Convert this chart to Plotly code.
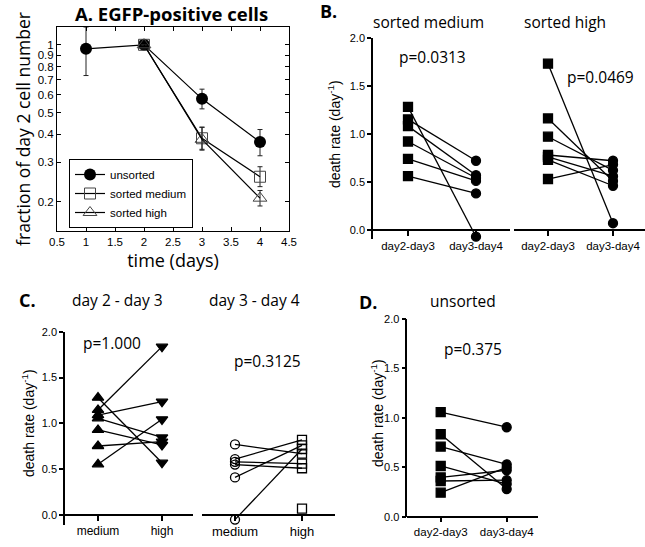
import numpy as np
import plotly.graph_objects as go

W, H = 645, 547

# ---- panel A: fraction of day 2 cell number (log scale) ----
days = [1, 2, 3, 4]
unsorted_frac = [0.96, 1.0, 0.575, 0.37]
unsorted_up = [0.24, 0.0, 0.06, 0.05]
unsorted_dn = [0.23, 0.0, 0.056, 0.049]

sorted_days = [2, 3, 4]
medium_frac = [1.0, 0.384, 0.259]
medium_up = [0.0, 0.046, 0.028]
medium_dn = [0.0, 0.041, 0.025]
high_frac = [1.0, 0.38, 0.208]
high_up = [0.0, 0.05, 0.017]
high_dn = [0.0, 0.04, 0.016]

a_xticks = [0.5, 1, 1.5, 2, 2.5, 3, 3.5, 4, 4.5]
a_xlabels = ["0.5", "1", "1.5", "2", "2.5", "3", "3.5", "4", "4.5"]
a_yticks = [0.2, 0.3, 0.4, 0.5, 0.6, 0.7, 0.8, 0.9, 1.0]
a_ylabels = ["0.2", "0.3", "0.4", "0.5", "0.6", "0.7", "0.8", "0.9", "1"]

# ---- panel B: death rates, paired ----
periods = ["day2-day3", "day3-day4"]
b_med_d23 = [1.28, 1.15, 1.08, 0.92, 0.74, 0.56]
b_med_d34 = [-0.07, 0.72, 0.57, 0.54, 0.51, 0.38]
b_high_d23 = [1.73, 1.16, 0.97, 0.78, 0.76, 0.73, 0.53]
b_high_d34 = [0.07, 0.51, 0.62, 0.72, 0.56, 0.46, 0.68]

# ---- panel C: medium vs high ----
groups = ["medium", "high"]
c_d23_med = [0.553, 0.753, 0.928, 1.28, 1.146, 1.09, 1.055]
c_d23_high = [1.044, 0.80, 0.764, 0.571, 1.837, 1.236, 0.847]
c_d34_med = [0.77, 0.61, 0.58, 0.55, 0.41, -0.05]
c_d34_high = [0.67, 0.82, 0.56, 0.51, 0.76, 0.72]
c_d34_high_extra = [0.07]

# ---- panel D: unsorted ----
d_d23 = [1.057, 0.834, 0.709, 0.513, 0.398, 0.361, 0.243]
d_d34 = [0.905, 0.28, 0.53, 0.33, 0.47, 0.37, 0.50]

rate_ticks = [0.0, 0.5, 1.0, 1.5, 2.0]


def px(x):
    return x / W


def py(y):
    return 1 - y / H


SANS = "Liberation Sans, Arial, sans-serif"
HUM = "Open Sans, Noto Sans, sans-serif"

fig = go.Figure()

# panel A traces
fig.add_trace(go.Scatter(
    x=days, y=unsorted_frac, name="unsorted", mode="lines+markers",
    line=dict(color="black", width=1.2),
    marker=dict(symbol="circle", size=12, color="black"),
    error_y=dict(type="data", array=unsorted_up, arrayminus=unsorted_dn,
                 color="#222", thickness=1, width=2.5),
    xaxis="x", yaxis="y", cliponaxis=False))
fig.add_trace(go.Scatter(
    x=sorted_days, y=medium_frac, name="sorted medium", mode="lines+markers",
    line=dict(color="black", width=1.2),
    marker=dict(symbol="square-open", size=11, color="#444", line=dict(width=1)),
    error_y=dict(type="data", array=medium_up, arrayminus=medium_dn,
                 color="#222", thickness=1, width=2.5),
    xaxis="x", yaxis="y", cliponaxis=False))
fig.add_trace(go.Scatter(
    x=sorted_days, y=high_frac, name="sorted high", mode="lines+markers",
    line=dict(color="black", width=1.2),
    marker=dict(symbol="triangle-up-open", size=12, color="#444", line=dict(width=1)),
    error_y=dict(type="data", array=high_up, arrayminus=high_dn,
                 color="#222", thickness=1, width=2.5),
    xaxis="x", yaxis="y", cliponaxis=False))


def add_pairs(left, right, ax, sym, size=9, lw=1.3):
    for a, b in zip(left, right):
        fig.add_trace(go.Scatter(
            x=[0, 1], y=[a, b], mode="lines+markers", showlegend=False,
            line=dict(color="black", width=lw),
            marker=dict(symbol=sym, size=size, color="black",
                        line=dict(color="black", width=1.3)),
            xaxis="x" + ax, yaxis="y" + ax, cliponaxis=False))


add_pairs(b_med_d23, b_med_d34, "2", ["square", "circle"])
add_pairs(b_high_d23, b_high_d34, "3", ["square", "circle"])
add_pairs(c_d23_med, c_d23_high, "4", ["triangle-up", "triangle-down"], size=10)
add_pairs(c_d34_med, c_d34_high, "5", ["circle-open", "square-open"])
fig.add_trace(go.Scatter(
    x=[1] * len(c_d34_high_extra), y=c_d34_high_extra, mode="markers",
    showlegend=False, marker=dict(symbol="square-open", size=9, color="black",
                                  line=dict(width=1.3)),
    xaxis="x5", yaxis="y5", cliponaxis=False))
add_pairs(d_d23, d_d34, "6", ["square", "circle"])

# ---- axes ----
a_box = dict(showline=True, linecolor="black", linewidth=1, mirror="allticks",
             ticks="inside", ticklen=4, tickcolor="black", showgrid=False,
             zeroline=False, automargin=False,
             tickfont=dict(family=SANS, size=11.5, color="black"))
fig.update_layout(
    xaxis=dict(a_box, domain=[px(57), px(289)], range=[0.5, 4.5], anchor="y",
               tickvals=a_xticks, ticktext=a_xlabels, tickangle=0,
               title=dict(text="time (days)", standoff=4,
                          font=dict(family=HUM, size=18, color="black"))),
    yaxis=dict(a_box, domain=[py(231), py(27)], type="log", anchor="x",
               range=[np.log10(0.1486), np.log10(1.2)],
               tickvals=a_yticks, ticktext=a_ylabels,
               title=dict(text="fraction of day 2 cell number", standoff=2,
                          font=dict(family=HUM, size=17.5, color="black"))),
)

prism = dict(showline=True, linecolor="black", linewidth=1.5, ticks="outside",
             ticklen=4, tickwidth=1.5, tickcolor="black", showgrid=False,
             zeroline=False, automargin=False,
             tickfont=dict(family=SANS, size=11, color="black"))


def rate_yaxis(top, bottom, ymin, visible=True, anchor=None):
    d = dict(prism, domain=[py(bottom), py(top)], range=[ymin, 2.0],
             tickvals=rate_ticks, tickformat=".1f", anchor=anchor)
    if not visible:
        d.update(visible=False)
    return d


def cat_xaxis(left, right, t0, t1, labels, zero_y, size=11.5):
    unit = t1 - t0
    return dict(prism, domain=[px(left), px(right)],
                range=[(left - t0) / unit, 1 + (right - t1) / unit],
                tickvals=[0, 1], ticktext=labels, anchor="free",
                position=py(zero_y), ticklen=5, tickangle=0,
                tickfont=dict(family=SANS, size=size, color="black"))


fig.update_layout(
    xaxis2=cat_xaxis(373, 510, 408, 476, periods, 230),
    yaxis2=rate_yaxis(37.7, 239, -0.094, anchor="x2"),
    xaxis3=cat_xaxis(514, 645, 548, 613, periods, 230),
    yaxis3=rate_yaxis(37.7, 239, -0.094, visible=False, anchor="x3"),
    xaxis4=cat_xaxis(65, 193, 98, 162, groups, 515, size=12),
    yaxis4=rate_yaxis(331.7, 525, -0.109, anchor="x4"),
    xaxis5=cat_xaxis(202, 335, 235, 302, groups, 515, size=13),
    yaxis5=rate_yaxis(331.7, 525, -0.109, visible=False, anchor="x5"),
    xaxis6=cat_xaxis(407.3, 538, 440.7, 506.7, periods, 516.7),
    yaxis6=rate_yaxis(319, 516.7, 0.0, anchor="x6"),
)

# ---- text ----
ann = []


def label(x, y, text, size=15, bold=False, family=HUM, angle=0):
    ann.append(dict(x=px(x), y=py(y), xref="paper", yref="paper",
                    text=f"<b>{text}</b>" if bold else text, showarrow=False,
                    textangle=angle, xanchor="center", yanchor="middle",
                    font=dict(family=family, size=size, color="black")))


label(171, 13, "A. EGFP-positive cells", size=18.5, bold=True)
label(329, 11, "B.", size=18, bold=True)
label(428, 22, "sorted medium", size=15.5)
label(565, 22, "sorted high", size=15.5)
label(432, 57, "p=0.0313", size=15.5)
label(600, 77, "p=0.0469", size=15.5)
label(27, 300, "C.", size=18, bold=True)
label(117, 300, "day 2 - day 3", size=15.5)
label(254, 300, "day 3 - day 4", size=15.5)
label(112, 343, "p=1.000", size=15.5)
label(267, 361, "p=0.3125", size=15.5)
label(368, 302, "D.", size=18, bold=True)
label(463, 301, "unsorted", size=15.5)
label(473, 349, "p=0.375", size=15.5)
rate_title = "death rate (day<sup>-1</sup>)"
label(334, 134, rate_title, size=14, family=SANS, angle=-90)
label(28, 423, rate_title, size=14, family=SANS, angle=-90)
label(377, 413, rate_title, size=14, family=SANS, angle=-90)

fig.update_layout(
    annotations=ann,
    width=W, height=H,
    margin=dict(l=0, r=0, t=0, b=0, autoexpand=False),
    paper_bgcolor="white", plot_bgcolor="white",
    showlegend=True,
    legend=dict(x=px(69), y=py(159), xanchor="left", yanchor="top",
                bgcolor="white", bordercolor="black", borderwidth=1,
                font=dict(family=SANS, size=11.5, color="black"),
                itemwidth=30, tracegroupgap=0),
)

# the page's default body margin would push the figure 8px down and right
fig.write_html("out.html", config={"displayModeBar": False},
               post_script="document.body.style.margin = '0';")
